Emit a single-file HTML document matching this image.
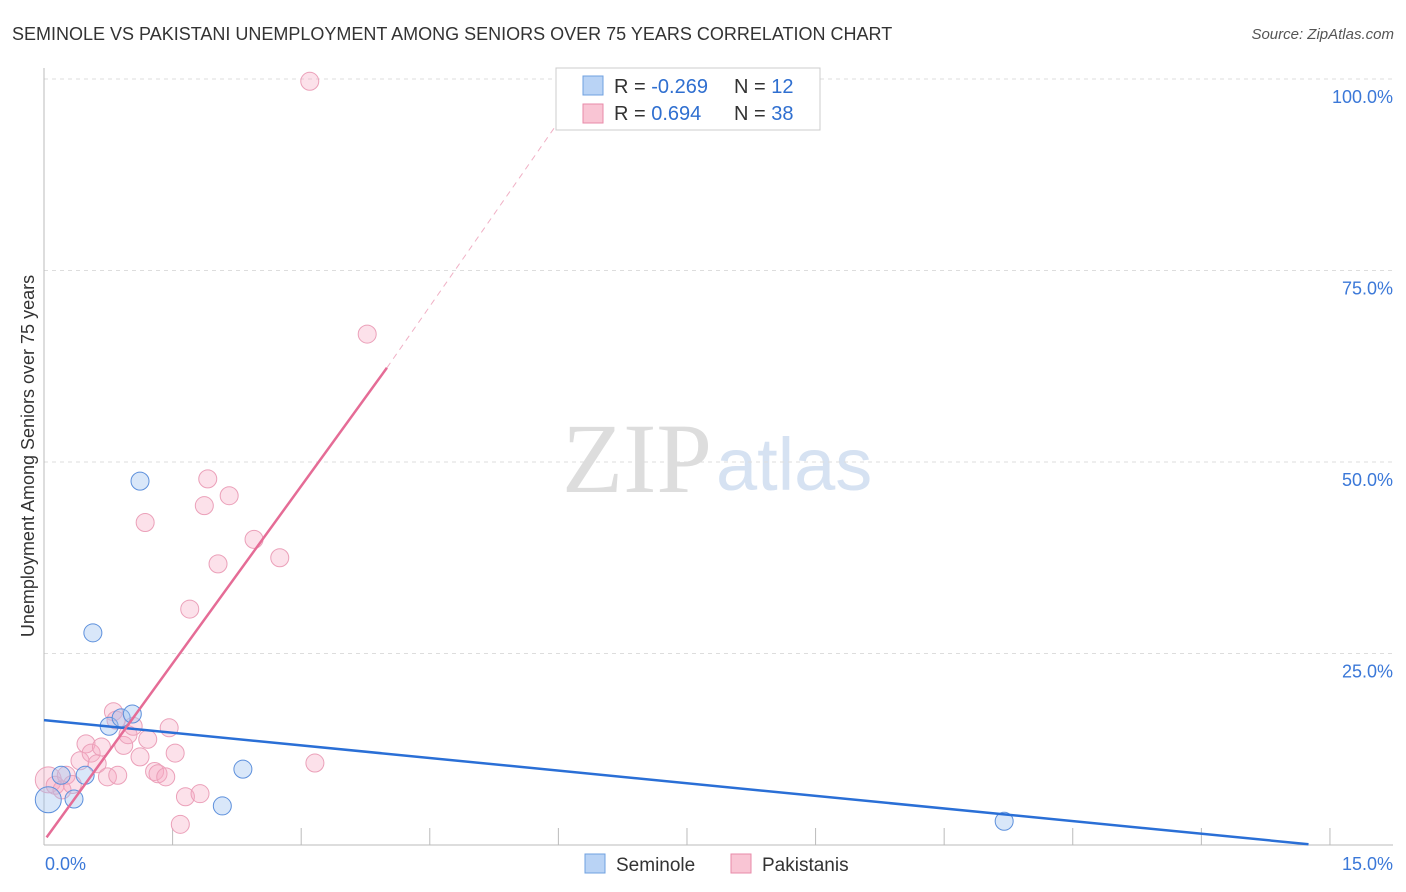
<!DOCTYPE html>
<html><head><meta charset="utf-8"><style>
body{margin:0;background:#fff;font-family:"Liberation Sans",sans-serif}
#c{position:absolute;left:0;top:0}
</style></head><body>
<svg id="c" width="1406" height="892" xmlns="http://www.w3.org/2000/svg">
<text x="12" y="40" font-size="18" fill="#333">SEMINOLE VS PAKISTANI UNEMPLOYMENT AMONG SENIORS OVER 75 YEARS CORRELATION CHART</text>
<text x="1394" y="39" font-size="15" fill="#555" text-anchor="end" font-style="italic">Source: ZipAtlas.com</text>
<text x="712" y="492" font-size="100" fill="#ddd" text-anchor="end" font-family="Liberation Serif,serif">ZIP</text>
<text x="716" y="490" font-size="74" fill="#d6e2f2">atlas</text>
<text transform="translate(34,456) rotate(-90)" font-size="18" fill="#333" text-anchor="middle">Unemployment Among Seniors over 75 years</text>
<g id="grid"></g><g id="pts"></g><g id="lines"></g>
<g>
<rect x="556" y="68" width="264" height="62" fill="#fff" stroke="#ccc"/>
<rect x="583" y="76" width="20" height="19" fill="#b9d3f5" stroke="#6fa0e0"/>
<rect x="583" y="104" width="20" height="19" fill="#f9c5d4" stroke="#e88aa8"/>
<text x="614" y="93" font-size="20" fill="#333">R = <tspan fill="#2f6fd0">-0.269</tspan></text>
<text x="734" y="93" font-size="20" fill="#333">N = <tspan fill="#2f6fd0"> 12</tspan></text>
<text x="614" y="120" font-size="20" fill="#333">R = <tspan fill="#2f6fd0"> 0.694</tspan></text>
<text x="734" y="120" font-size="20" fill="#333">N = <tspan fill="#2f6fd0">38</tspan></text>
</g>
<g>
<rect x="585" y="854" width="20" height="19" fill="#b9d3f5" stroke="#6fa0e0"/>
<text x="616" y="871" font-size="19" fill="#333">Seminole</text>
<rect x="731" y="854" width="20" height="19" fill="#f9c5d4" stroke="#e88aa8"/>
<text x="762" y="871" font-size="19" fill="#333">Pakistanis</text>
</g>
<text x="45" y="870" font-size="18" fill="#3b78d8">0.0%</text>
<text x="1393" y="870" font-size="18" fill="#3b78d8" text-anchor="end">15.0%</text>
</svg>
<script>
const yTicks=[25,50,75,100];
const semX=[0.05,0.2,0.35,0.48,0.57,0.76,0.9,1.03,1.12,2.08,2.32,11.2];
const semY=[5.9,9.1,6.0,9.1,27.7,15.5,16.6,17.1,47.5,5.1,9.9,3.1];
const pakX=[0.05,0.13,0.21,0.26,0.33,0.42,0.49,0.55,0.62,0.67,0.74,0.81,0.86,0.93,0.98,1.04,1.12,1.21,1.29,1.33,1.42,1.46,1.53,1.59,1.65,1.70,1.82,1.87,1.91,2.03,2.16,1.18,2.45,2.75,3.16,3.10,3.77,0.84];
const pakY=[8.5,7.8,7.2,9.1,7.9,11.0,13.2,12.0,10.6,12.8,8.9,17.4,9.1,13.0,14.4,15.5,11.5,13.8,9.6,9.3,8.9,15.3,12.0,2.7,6.3,30.8,6.7,44.3,47.8,36.7,45.6,42.1,39.9,37.5,10.7,99.7,66.7,16.3];
const semTrend=[0,16.3,14.75,0.1];
const pakTrend=[0.03,1.0,4.0,62.3,6.35,100];
const X=v=>44+v*85.73, Y=v=>845-v*7.66;
const NS='http://www.w3.org/2000/svg';
function mk(t,a,p){const e=document.createElementNS(NS,t);for(const k in a)e.setAttribute(k,a[k]);document.getElementById(p).appendChild(e);return e;}
yTicks.forEach(t=>{
 const l=mk('line',{x1:44,x2:1393,y1:Y(t),y2:Y(t),stroke:'#ddd','stroke-dasharray':'4,4'},'grid');
 
 
 const tx=mk('text',{x:1393,y:Y(t)+24,'font-size':18,fill:'#3b78d8','text-anchor':'end'},'grid');
 tx.textContent=t.toFixed(1)+'%';
 
 
});
mk('line',{x1:44,x2:44,y1:68,y2:845,stroke:'#bbb'},'grid');
mk('line',{x1:44,x2:1393,y1:845,y2:845,stroke:'#bbb'},'grid');
for(let i=1;i<=10;i++){const t=mk('line',{x1:X(i*1.5),x2:X(i*1.5),y1:828,y2:845,stroke:'#bbb'},'grid');
 
 }
pakX.forEach((x,i)=>{const c=mk('circle',{cx:X(x),cy:Y(pakY[i]),r:i==0?13:9,fill:'rgba(246,170,195,0.35)',stroke:'#eba0b9','stroke-width':1},'pts');
 
 });
semX.forEach((x,i)=>{const c=mk('circle',{cx:X(x),cy:Y(semY[i]),r:i==0?13:9,fill:'rgba(160,196,240,0.4)',stroke:'#5d90dc','stroke-width':1},'pts');
 
 });
let l=mk('line',{x1:X(semTrend[0]),y1:Y(semTrend[1]),x2:X(semTrend[2]),y2:Y(semTrend[3]),stroke:'#2a6fd6','stroke-width':2.5},'lines');


l=mk('line',{x1:X(pakTrend[0]),y1:Y(pakTrend[1]),x2:X(pakTrend[2]),y2:Y(pakTrend[3]),stroke:'#e56c96','stroke-width':2.5},'lines');


l=mk('line',{x1:X(pakTrend[2]),y1:Y(pakTrend[3]),x2:X(pakTrend[4]),y2:Y(pakTrend[5]),stroke:'#f0b0c5','stroke-width':1,'stroke-dasharray':'6,5'},'lines');


</script>
</body></html>
